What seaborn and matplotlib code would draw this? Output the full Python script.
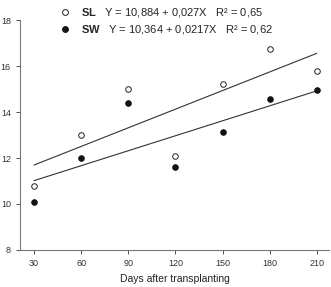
import matplotlib
matplotlib.use("Agg")
import matplotlib.pyplot as plt
import seaborn as sns
import pandas as pd
import numpy as np
from matplotlib.lines import Line2D

days = [30, 60, 90, 120, 150, 180, 210]
sl_values = [10.8, 13.0, 15.0, 12.1, 15.2, 16.75, 15.78]
sw_values = [10.1, 12.0, 14.38, 11.6, 13.14, 14.55, 14.97]
sl_fit = (10.884, 0.027)
sw_fit = (10.364, 0.0217)
sl_label = r"$\mathbf{SL}$   Y = 10,884 + 0,027X   R² = 0,65"
sw_label = r"$\mathbf{SW}$   Y = 10,364 + 0,0217X   R² = 0,62"
x_ticks = [30, 60, 90, 120, 150, 180, 210]
y_ticks = [8, 10, 12, 14, 16, 18]
x_label = "Days after transplanting"

sns.set_style("ticks")
plt.rcParams['font.family'] = ['Liberation Sans', 'DejaVu Sans']
plt.rcParams['mathtext.fontset'] = 'custom'
plt.rcParams['mathtext.bf'] = 'Liberation Sans:bold'
plt.rcParams['mathtext.rm'] = 'Liberation Sans'

df = pd.DataFrame({"days": days * 2,
                   "value": sl_values + sw_values,
                   "series": ["SL"] * 7 + ["SW"] * 7})
fit_x = [min(days), max(days)]
fit_df = pd.DataFrame({
    "days": fit_x * 2,
    "value": [sl_fit[0] + sl_fit[1] * x for x in fit_x] + [sw_fit[0] + sw_fit[1] * x for x in fit_x],
    "series": ["SL"] * 2 + ["SW"] * 2})

fig = plt.figure(figsize=(3.31, 2.87), dpi=100)
ax = fig.add_axes([0.060, 0.129, 0.935, 0.801])

sns.lineplot(data=fit_df, x="days", y="value", units="series", estimator=None,
             color="#333333", linewidth=0.8, ax=ax, legend=False)
sns.scatterplot(data=df[df.series == "SL"], x="days", y="value", ax=ax,
                marker="o", s=16, facecolor="white", edgecolor="#222222", linewidth=0.7,
                legend=False, zorder=3)
sns.scatterplot(data=df[df.series == "SW"], x="days", y="value", ax=ax,
                marker="o", s=16, color="#111111", edgecolor="#111111", linewidth=0.7,
                legend=False, zorder=3)

ax.set_xlim(21, 218)
ax.set_ylim(8, 18)
ax.set_xticks(x_ticks)
ax.set_yticks(y_ticks)
ax.tick_params(labelsize=6.5, colors="#333333", length=3, width=0.6)
for s in ["left", "bottom"]:
    ax.spines[s].set_color("#777777")
    ax.spines[s].set_linewidth(0.8)
sns.despine(ax=ax)
ax.set_xlabel(x_label, fontsize=7.5, color="#222222", labelpad=4)
ax.set_ylabel("")

handles = [Line2D([], [], marker="o", linestyle="", markersize=4.2, markerfacecolor="white",
                  markeredgecolor="#222222", markeredgewidth=0.7),
           Line2D([], [], marker="o", linestyle="", markersize=4.2, markerfacecolor="#111111",
                  markeredgecolor="#111111", markeredgewidth=0.7)]
fig.legend(handles, [sl_label, sw_label], loc="upper left", bbox_to_anchor=(0.155, 1.005),
           frameon=False, fontsize=8, handletextpad=1.0, labelspacing=0.35,
           handlelength=1.0, borderpad=0.2)

fig.savefig("out.png", dpi=100)
